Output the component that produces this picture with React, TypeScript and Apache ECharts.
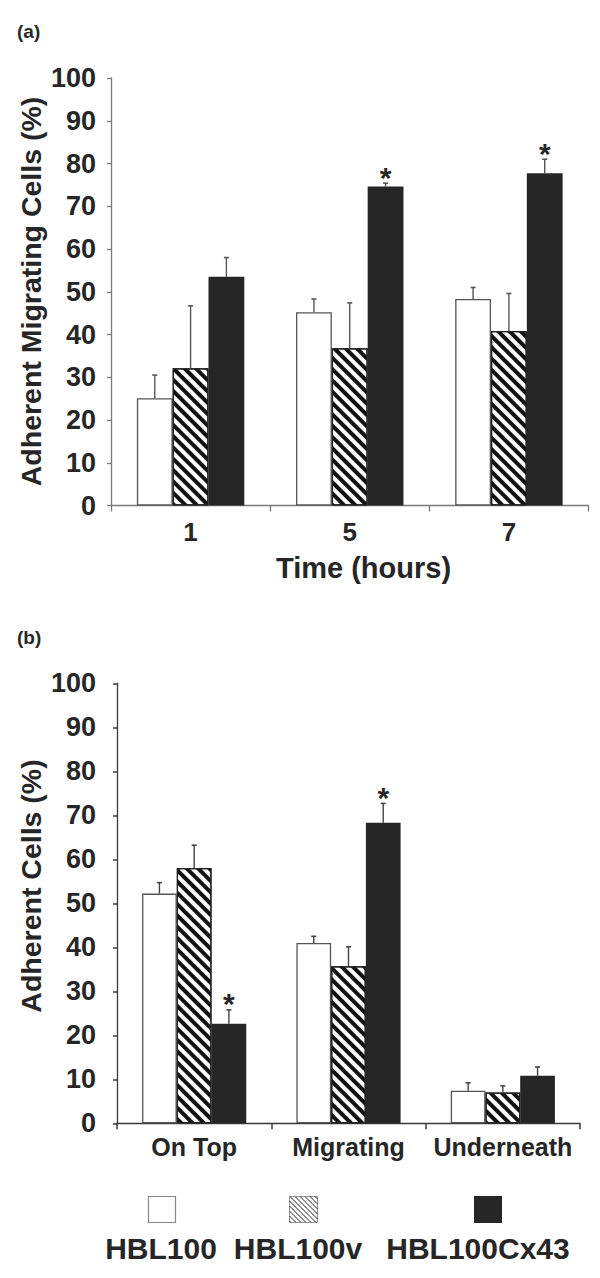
import React, { useEffect, useRef } from "react";
import * as echarts from "echarts";

// ---- Panel (a) data ----
const categoriesA = ["1", "5", "7"];
const hbl100A = [25.1, 45.2, 48.3];
const hbl100vA = [32.1, 36.8, 40.8];
const hbl100Cx43A = [53.5, 74.6, 77.7];
const errHbl100A = [5.4, 3.1, 2.7];
const errHbl100vA = [14.6, 10.6, 8.8];
const errHbl100Cx43A = [4.5, 0.8, 3.3];
const sigA = [0, 1, 1];

// ---- Panel (b) data ----
const categoriesB = ["On Top", "Migrating", "Underneath"];
const hbl100B = [52.2, 41.0, 7.4];
const hbl100vB = [58.0, 35.7, 7.0];
const hbl100Cx43B = [22.6, 68.3, 10.8];
const errHbl100B = [2.5, 1.5, 1.8];
const errHbl100vB = [5.2, 4.4, 1.5];
const errHbl100Cx43B = [3.2, 4.4, 2.0];
const sigB = [1, 1, 0];

const legendNames = ["HBL100", "HBL100v", "HBL100Cx43"];
const yTicks = { min: 0, max: 100, interval: 10 };

const FONT = "Liberation Sans, Arial, Helvetica, sans-serif";
const TXT = "#262626";
const BLACK = "#262626";
const BAR_W = 0.225;

function barSeries(name: string, data: number[], kind: number, gi: number) {
  const base: any = {
    type: "bar",
    name,
    data,
    xAxisIndex: gi,
    yAxisIndex: gi,
    barWidth: BAR_W * 100 + "%",
    barGap: "0%",
  };
  if (kind === 0) {
    base.itemStyle = { color: "#ffffff", borderColor: "#555", borderWidth: 1.3 };
  } else if (kind === 1) {
    base.itemStyle = {
      color: "#ffffff",
      borderColor: "#222",
      borderWidth: 1.2,
      decal: {
        symbol: "rect",
        symbolSize: 1,
        color: "#111",
        dashArrayX: [1, 0],
        dashArrayY: [3.3, 3.1],
        rotation: Math.PI / 4,
      },
    };
  } else {
    base.itemStyle = { color: BLACK };
  }
  return base;
}

function errSeries(values: number[], errs: number[], offset: number, sig: number[] | null, gi: number, color: string) {
  return {
    type: "custom",
    xAxisIndex: gi,
    yAxisIndex: gi,
    clip: false,
    z: 5,
    data: values.map((v, i) => [i, v, v + errs[i], sig ? sig[i] : 0]),
    renderItem: (params: any, api: any) => {
      const i = api.value(0);
      const v = api.value(1);
      const t = api.value(2);
      const s = api.value(3);
      const b = api.coord([i, v]);
      const tp = api.coord([i, t]);
      const band = api.size([1, 0])[0];
      const bw = band * BAR_W;
      const x = b[0] + (offset - 1) * bw;
      const children: any[] = [
        { type: "line", shape: { x1: x, y1: b[1], x2: x, y2: tp[1] }, style: { stroke: color, lineWidth: 1.4 } },
        { type: "line", shape: { x1: x - 2.5, y1: tp[1], x2: x + 2.5, y2: tp[1] }, style: { stroke: color, lineWidth: 1.6 } },
      ];
      if (s) {
        children.push({
          type: "text",
          style: {
            text: "*",
            x: x,
            y: tp[1] - 6,
            textAlign: "center",
            textVerticalAlign: "middle",
            font: "bold 30px " + FONT,
            fill: TXT,
          },
        });
      }
      return { type: "group", children };
    },
  };
}

function hatchLines(x0: number, y0: number, w: number, h: number, p: number) {
  const out: any[] = [];
  for (let c = -w + p / 2; c < h; c += p) {
    const sx = x0 + Math.max(0, -c);
    const sy = y0 + Math.max(0, c);
    const L = Math.min(w - Math.max(0, -c), h - Math.max(0, c));
    if (L <= 0) continue;
    out.push({ type: "line", shape: { x1: sx, y1: sy, x2: sx + L, y2: sy + L }, style: { stroke: "#222", lineWidth: 1 } });
  }
  return out;
}

export default function App() {
  const ref = useRef<HTMLDivElement>(null);
  useEffect(() => {
    document.body.style.margin = "0";
    const chart = echarts.init(ref.current!, null, { renderer: "svg" });
    const axisCommon = (color: string) => ({
      axisLine: { show: true, lineStyle: { color, width: 1.3 } },
      splitLine: { show: false },
    });
    const option: any = {
      animation: false,
      backgroundColor: "#ffffff",
      grid: [
        { left: 111, right: 11.5, top: 78, height: 427.5 },
        { left: 117, right: 20, top: 683.3, height: 440 },
      ],
      xAxis: [
        {
          type: "category",
          gridIndex: 0,
          data: categoriesA,
          ...axisCommon("#7a7a7a"),
          axisTick: { show: true, length: 6, lineStyle: { color: "#7a7a7a", width: 1.3 } },
          axisLabel: { margin: 13, fontSize: 26, fontWeight: "bold", fontFamily: FONT, color: TXT },
        },
        {
          type: "category",
          gridIndex: 1,
          data: categoriesB,
          ...axisCommon("#3a3a3a"),
          axisTick: { show: true, length: 6, lineStyle: { color: "#3a3a3a", width: 1.5 } },
          axisLabel: { margin: 11, fontSize: 25, fontWeight: "bold", fontFamily: FONT, color: TXT, interval: 0 },
        },
      ],
      yAxis: [
        {
          type: "value",
          gridIndex: 0,
          min: yTicks.min,
          max: yTicks.max,
          interval: yTicks.interval,
          ...axisCommon("#7a7a7a"),
          axisTick: { show: true, length: 4, lineStyle: { color: "#7a7a7a", width: 1.3 } },
          axisLabel: { margin: 15, fontSize: 27, fontWeight: "bold", fontFamily: FONT, color: TXT },
        },
        {
          type: "value",
          gridIndex: 1,
          min: yTicks.min,
          max: yTicks.max,
          interval: yTicks.interval,
          ...axisCommon("#3a3a3a"),
          axisTick: { show: true, length: 4, lineStyle: { color: "#3a3a3a", width: 1.5 } },
          axisLabel: { margin: 21, fontSize: 27, fontWeight: "bold", fontFamily: FONT, color: TXT },
        },
      ],
      series: [
        barSeries(legendNames[0], hbl100A, 0, 0),
        barSeries(legendNames[1], hbl100vA, 1, 0),
        barSeries(legendNames[2], hbl100Cx43A, 2, 0),
        errSeries(hbl100A, errHbl100A, 0, null, 0, "#555"),
        errSeries(hbl100vA, errHbl100vA, 1, null, 0, "#555"),
        errSeries(hbl100Cx43A, errHbl100Cx43A, 2, sigA, 0, "#555"),
        barSeries(legendNames[0], hbl100B, 0, 1),
        barSeries(legendNames[1], hbl100vB, 1, 1),
        barSeries(legendNames[2], hbl100Cx43B, 2, 1),
        errSeries(hbl100B, errHbl100B, 0, null, 1, "#444"),
        errSeries(hbl100vB, errHbl100vB, 1, null, 1, "#444"),
        errSeries(hbl100Cx43B, errHbl100Cx43B, 2, sigB, 1, "#444"),
      ],
      graphic: [
        { type: "text", left: 17, top: 22, style: { text: "(a)", font: "bold 19px " + FONT, fill: TXT } },
        { type: "text", left: 17, top: 628, style: { text: "(b)", font: "bold 19px " + FONT, fill: TXT } },
        {
          type: "text", x: 363.5, y: 568,
          style: { text: "Time (hours)", font: "bold 29px " + FONT, fill: TXT, textAlign: "center", textVerticalAlign: "middle" },
        },
        {
          type: "text", x: 31, y: 291.5, rotation: Math.PI / 2,
          style: { text: "Adherent Migrating Cells (%)", font: "bold 28.5px " + FONT, fill: TXT, textAlign: "center", textVerticalAlign: "middle" },
        },
        {
          type: "text", x: 31, y: 886, rotation: Math.PI / 2,
          style: { text: "Adherent Cells (%)", font: "bold 28.5px " + FONT, fill: TXT, textAlign: "center", textVerticalAlign: "middle" },
        },
        { type: "rect", shape: { x: 148.5, y: 1196.5, width: 27, height: 26 }, style: { fill: "#fff", stroke: "#888", lineWidth: 1.2 } },
        {
          type: "group",
          children: [
            { type: "rect", shape: { x: 289.5, y: 1196.5, width: 28, height: 26 }, style: { fill: "#fff", stroke: "#999", lineWidth: 1 } },
            ...hatchLines(289.5, 1196.5, 28, 26, 5),
          ],
        },
        { type: "rect", shape: { x: 474, y: 1196, width: 28, height: 27 }, style: { fill: BLACK } },
        { type: "text", x: 161, y: 1248, style: { text: legendNames[0], font: "bold 30px " + FONT, fill: TXT, textAlign: "center", textVerticalAlign: "middle" } },
        { type: "text", x: 298, y: 1248, style: { text: legendNames[1], font: "bold 30px " + FONT, fill: TXT, textAlign: "center", textVerticalAlign: "middle" } },
        { type: "text", x: 478, y: 1248, style: { text: legendNames[2], font: "bold 30px " + FONT, fill: TXT, textAlign: "center", textVerticalAlign: "middle" } },
      ],
    };
    chart.setOption(option);
    return () => chart.dispose();
  }, []);
  return <div ref={ref} style={{ position: "absolute", left: 0, top: 0, width: 600, height: 1278 }} />;
}
